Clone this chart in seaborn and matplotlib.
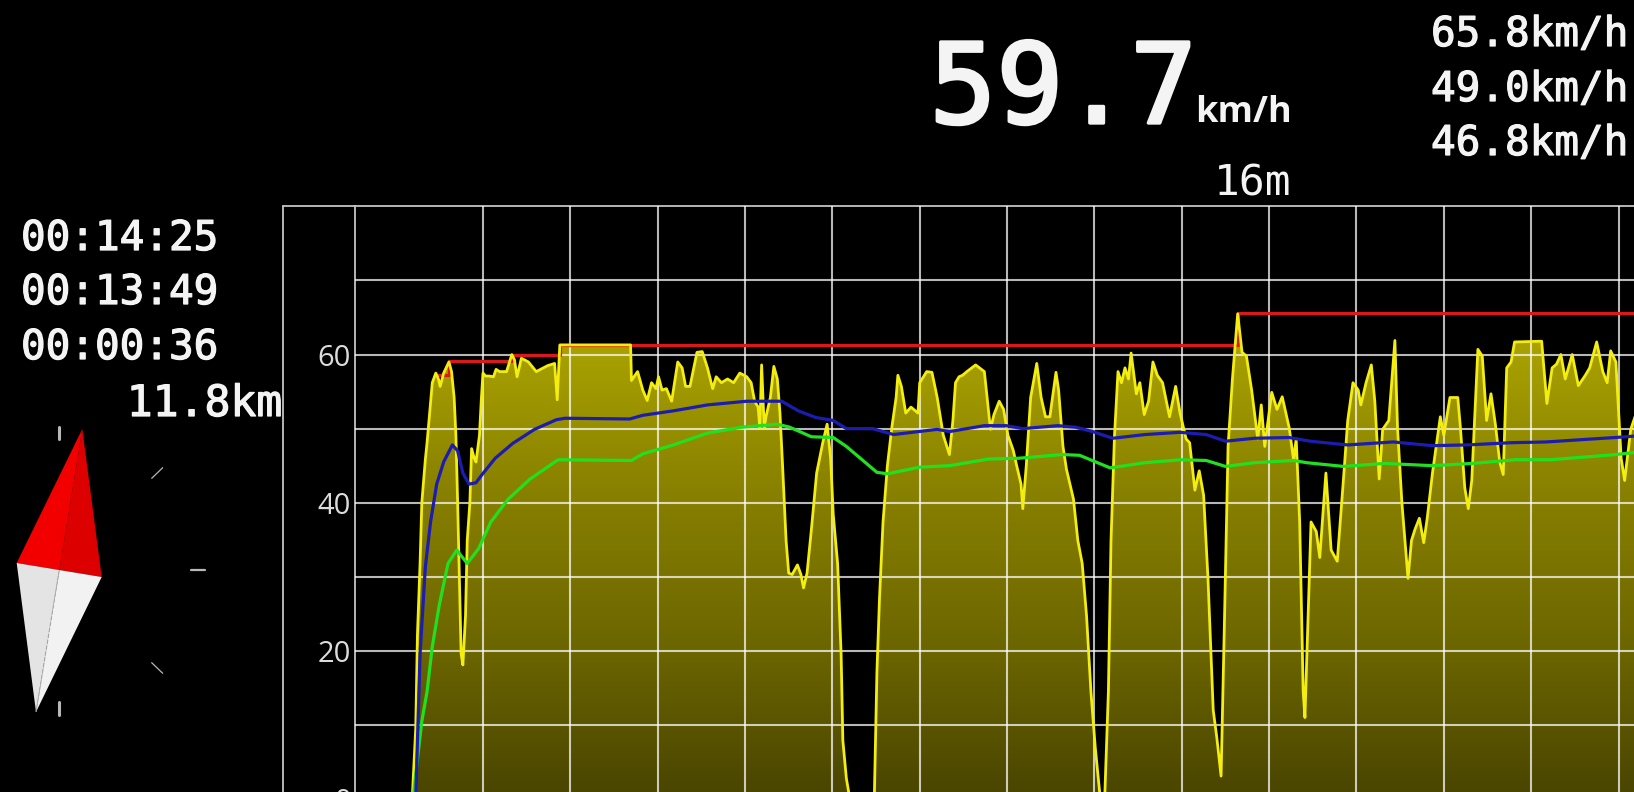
import numpy as np
import pandas as pd
import matplotlib
matplotlib.use("Agg")
import matplotlib.pyplot as plt
import matplotlib.patheffects as pe
from matplotlib.colors import LinearSegmentedColormap
from matplotlib.patches import Polygon
import seaborn as sns

# ---- data: x in minutes, y in km/h ----
speed_min = [0.19,0.23,0.25,0.28,0.30,0.34,0.36,0.39,0.42,0.46,0.49,0.51,0.55,0.61,0.64,0.67,0.69,0.71,0.73,0.75,0.77,0.80,0.82,0.85,0.87,0.90,0.92,0.96,0.98,1.00,
1.03,1.07,1.12,1.15,1.19,1.27,1.33,1.36,1.39,1.44,1.52,1.61,1.74,1.82,1.85,1.88,2.69,2.70,2.77,2.83,2.88,2.93,2.98,3.01,3.05,3.10,3.16,3.23,3.28,3.32,
3.37,3.45,3.51,3.57,3.63,3.67,3.73,3.80,3.87,3.94,4.02,4.07,4.11,4.15,4.17,4.19,4.22,4.24,4.29,4.33,4.37,4.40,4.43,4.47,4.50,4.54,4.60,4.64,4.67,4.71,
4.76,4.82,4.89,4.94,4.98,5.01,5.06,5.10,5.12,5.16,5.20,5.48,5.51,5.54,5.58,5.63,5.68,5.73,5.75,5.79,5.84,5.90,5.98,6.00,6.08,6.14,6.20,6.27,
6.34,6.38,6.41,6.45,6.49,6.54,6.64,6.74,6.78,6.81,6.85,6.91,6.96,7.01,7.07,7.11,7.16,7.18,7.22,7.27,7.34,7.39,7.44,7.49,7.56,7.59,7.64,7.68,7.76,7.81,
7.86,7.91,7.96,8.01,8.06,8.09,8.12,8.16,8.19,8.23,8.27,8.31,8.35,8.39,8.42,8.48,8.52,8.57,8.62,8.67,8.72,8.78,8.86,8.93,8.98,9.05,9.09,9.15,9.20,9.25,
9.30,9.36,9.40,9.45,9.49,9.53,9.58,9.64,9.69,9.74,9.80,9.87,9.91,9.95,10.03,10.09,10.15,10.23,10.28,10.31,10.35,10.39,10.41,10.44,10.48,10.54,10.58,10.65,10.71,10.78,
10.85,10.90,10.96,11.02,11.05,11.11,11.17,11.21,11.26,11.30,11.37,11.44,11.47,11.52,11.59,11.63,11.67,11.72,11.77,11.81,11.87,11.96,12.00,12.07,12.16,12.19,12.24,12.28,12.32,12.39,
12.44,12.49,12.54,12.59,12.64,12.68,12.72,12.77,12.81,13.12,13.18,13.24,13.29,13.34,13.39,13.47,13.54,13.62,13.67,13.75,13.82,13.87,13.91,13.97,14.03,14.07,14.14,14.20]
speed_kmh = [0,9.5,22.2,31.8,40,45.8,48.1,52.1,56.2,57.5,56.7,55.7,57.5,59,57.7,54.2,49.1,40,29.8,19.6,18.1,24.7,34.9,40,47.3,46,45.5,49.1,53.7,57.5,
57.1,57.1,57,58,57.7,57.7,60,59.3,57,59.5,59,57.7,58.5,58.8,53.9,61.3,61.3,56.5,57.7,55.2,53.8,56.2,55.4,57,55.2,55.4,53.7,59,58.2,55.7,
55.7,60.3,60.4,58.2,55.4,57,56.2,56.7,56.2,57.5,57,56.2,53.7,52.9,50.1,58.6,50.1,51.6,54.2,58.4,56.7,52.1,45,34.9,30.5,30.3,31.6,30.3,28.5,30.5,
36.4,44,48.1,50.6,46,38.4,31.8,19.6,7.9,2.8,0,0,17.1,27.2,37.4,45,50.1,54.2,57.2,55.7,52.1,52.9,52.1,56.2,57.7,57.6,54.2,49.1,
46.5,51.1,56.2,57,57.2,57.7,58.6,57.7,53.2,49.9,51.9,53.7,52.6,49.1,47.1,45,42.5,39.2,45,54.2,58.8,54.2,51.6,51.6,57.6,55.2,47.6,44.5,40.5,34.9,
31.8,24.7,14.5,6.9,0.9,0,0.9,14.5,34.9,49.1,57.7,56.2,58.2,56.7,60.2,54.7,56.2,51.9,53.7,59,57.2,56.2,51.6,55.7,52.1,48.6,48.1,41.7,44.3,41,
29.8,12,8.4,3.1,24.7,47.6,56.7,65.5,60.3,59.8,55.2,48.6,53.2,47.6,54.9,52.6,54.3,50.1,45.8,48.6,37.4,14.5,11,22.2,37.4,36.1,32.6,44,33.6,32.1,
43,51.1,56.2,55.2,53.2,56.2,58.6,53.7,43.2,49.9,51.1,61.9,50.1,40,29.8,34.9,36.4,37.9,34.6,37.9,44,51.6,49.1,54.2,54.2,50.1,42,39.2,43,60.7,
59.8,51.1,54.7,50.6,45.5,43.8,58.2,59,61.7,61.8,53.4,58.2,58.7,60,56.7,60,55.8,57.2,58.2,61.7,57.7,56.2,60.5,59,46,43,49.9,52]

moving_min = [0.23,0.28,0.34,0.40,0.47,0.55,0.65,0.71,0.77,0.84,0.92,0.99,1.14,1.34,1.59,1.84,1.94,2.68,2.83,3.18,3.57,4.02,4.42,4.61,4.81,5.01,5.16,5.46,5.70,6.20,
6.34,6.74,6.99,7.18,7.58,7.78,7.98,8.21,8.58,8.98,9.28,9.50,9.83,10.23,10.47,10.90,11.42,11.87,12.27,12.77,13.17,13.96,14.20]
moving_kmh = [0,19.6,31.3,37.4,42.5,45.5,47.8,47,44,42.5,42.7,43.8,46,48,49.9,51.2,51.4,51.3,51.8,52.4,53.2,53.7,53.7,52.4,51.5,51.1,50,50,49.2,49.9,
49.6,50.4,50.4,50,50.4,50.2,49.6,48.7,49.2,49.5,49.2,48.3,48.7,48.8,48.3,47.8,48.2,47.7,47.8,48.1,48.2,48.8,49]

overall_min = [0.20,0.25,0.30,0.36,0.42,0.50,0.60,0.70,0.82,0.95,1.09,1.29,1.54,1.86,2.70,2.83,3.18,3.57,3.97,4.37,4.51,4.76,5.01,5.16,5.51,5.63,6.00,
6.34,6.79,7.13,7.63,7.83,8.18,8.58,8.98,9.28,9.50,9.83,10.28,10.43,10.85,11.32,11.87,12.32,12.82,13.22,13.97,14.20]
overall_kmh = [0,5.4,10.5,14.5,20.6,26.2,31.8,33.6,31.8,33.8,37.4,40.5,43.2,45.8,45.7,46.6,47.8,49.4,50.2,50.6,50.2,48.9,48.8,47.6,44.1,43.9,44.8,
45,45.9,46,46.5,46.4,44.7,45.4,45.8,45.7,44.9,45.4,45.7,45.4,44.9,45.3,45,45.3,45.8,45.8,46.5,46.8]

peak_min = [0.48,0.61,1.33,1.88,9.64,14.20]
peak_kmh = [57.3,59.1,60.0,61.3,65.6,65.6]

y_labels = [0, 20, 40, 60]
y_minor = [10, 30, 50, 70]
x_grid = list(range(1, 15))

readouts_right = ["65.8km/h", "49.0km/h", "46.8km/h"]
readouts_left = ["00:14:25", "00:13:49", "00:00:36"]
current_speed = "59.7"
distance = "11.8km"
altitude = "16m"

# ---- figure ----
W, H = 1634, 792
sns.set_theme(style="dark", rc={"figure.facecolor": "black", "axes.facecolor": "black"})
plt.rcParams["font.family"] = ["DejaVu Sans Mono", "DejaVu Sans"]
fig = plt.figure(figsize=(W / 100, H / 100), dpi=100, facecolor="black")

# plot area: left edge 355 px, top 206.4 px, y=0 falls at 799 px (below the picture)
x0px, x1px, ytop, ybot = 355, W + 1, 206.4, 799
PX_PER_MIN = 87.35
xlim = (-0.465, -0.465 + (x1px - x0px) / PX_PER_MIN)
ax = fig.add_axes([x0px / W, (H - ybot) / H, (x1px - x0px) / W, (ybot - ytop) / H], facecolor="black")

df = pd.DataFrame({"minute": speed_min, "speed": speed_kmh})
poly = ax.fill_between(df["minute"], df["speed"], 0, facecolor="none", edgecolor="none")
grad = LinearSegmentedColormap.from_list("g", ["#494400", "#6c6600", "#888000", "#aaa300"])
im = ax.imshow(np.linspace(0, 1, 256)[:, None], extent=[0, 15, 0, 62], origin="lower",
               aspect="auto", cmap=grad, interpolation="bilinear", zorder=1)
im.set_clip_path(poly.get_paths()[0], transform=poly.get_transform())
ax.set_ylim(0, 80)
ax.set_xlim(*xlim)

ax.set_xticks(x_grid)
ax.set_xticklabels([])
ax.set_yticks(y_labels)
ax.set_yticks(y_minor, minor=True)
ax.set_yticklabels([str(v) for v in y_labels], family="Open Sans", fontsize=21, color="#dcdcdc")
ax.tick_params(axis="both", which="both", length=0)
ax.tick_params(axis="y", which="major", pad=3)
ax.set_axisbelow(False)
ax.grid(True, which="both", color="#ffffff", alpha=0.72, lw=1.5, zorder=2)
for s in ["right", "bottom"]:
    ax.spines[s].set_visible(False)
for s in ["left", "top"]:
    ax.spines[s].set_visible(True)
    ax.spines[s].set_color("#c4c4c4")
    ax.spines[s].set_linewidth(1.3)

sns.lineplot(x=peak_min, y=peak_kmh, ax=ax, color="#d81a1a", lw=2.3, drawstyle="steps-post", zorder=3, errorbar=None)
sns.lineplot(x=speed_min, y=speed_kmh, ax=ax, color="#f4ee10", lw=2.0, sort=False, estimator=None, zorder=4)
sns.lineplot(x=overall_min, y=overall_kmh, ax=ax, color="#20e020", lw=2.3, sort=False, estimator=None, zorder=5)
sns.lineplot(x=moving_min, y=moving_kmh, ax=ax, color="#1c1cb0", lw=2.3, sort=False, estimator=None, zorder=5)
ax.set_xlabel("")
ax.set_ylabel("")

# ---- overlay in picture pixels: readouts, frame extension, compass ----
ov = fig.add_axes([0, 0, 1, 1], facecolor="none")
ov.set_xlim(0, W)
ov.set_ylim(H, 0)
ov.axis("off")

mono = "DejaVu Sans Mono"
white = "#f4f4f4"
thick = [pe.withStroke(linewidth=0.9, foreground=white)]
big = [pe.withStroke(linewidth=2.4, foreground=white)]
ov.text(1197, 123, current_speed, ha="right", va="baseline", family=mono, fontsize=80, color=white, path_effects=big)
ov.text(1292, 122, "km/h", ha="right", va="baseline", family="Open Sans", weight="bold", fontsize=26, color=white)
ov.text(1292, 195, altitude, ha="right", va="baseline", family=mono, fontsize=31, color=white)
for s, y in zip(readouts_right, [46, 101, 155]):
    ov.text(1431, y, s, ha="left", va="baseline", family=mono, fontsize=29.5, color=white, path_effects=thick)
for s, y in zip(readouts_left, [250, 304, 359]):
    ov.text(21, y, s, ha="left", va="baseline", family=mono, fontsize=29.5, color=white, path_effects=thick)
ov.text(282, 416, distance, ha="right", va="baseline", family=mono, fontsize=31, color=white, path_effects=thick)

# frame extension to the left of the y axis
ov.plot([283, 355], [206.4, 206.4], color="#c4c4c4", lw=1.3)
ov.plot([283, 283], [206.4, H], color="#c4c4c4", lw=1.3)

# compass
apex, left, right, tail, mid = (82.3, 429), (16.7, 563), (101.7, 577), (36, 712), (59.3, 570)
for pts, col in [((apex, left, mid), "#f20000"), ((apex, mid, right), "#dc0000"),
                 ((left, mid, tail), "#e4e4e4"), ((mid, right, tail), "#f2f2f2")]:
    ov.add_patch(Polygon(pts, closed=True, facecolor=col, edgecolor="none"))
ov.plot([mid[0], tail[0]], [mid[1], tail[1]], color="#a8a8a8", lw=0.8, ls="--")
for (a, b), lw in [(((59.3, 426.7), (59.3, 439.3)), 2.2), (((59.3, 701.7), (59.3, 715)), 2.2),
                   (((191, 570), (205, 570)), 1.6), (((151.7, 478.3), (162.7, 467.7)), 0.9),
                   (((151.7, 662.7), (162.7, 673.3)), 0.9)]:
    ov.plot([a[0], b[0]], [a[1], b[1]], color="#b8b8b8", lw=lw)

fig.savefig("out.png", dpi=100, facecolor="black")
